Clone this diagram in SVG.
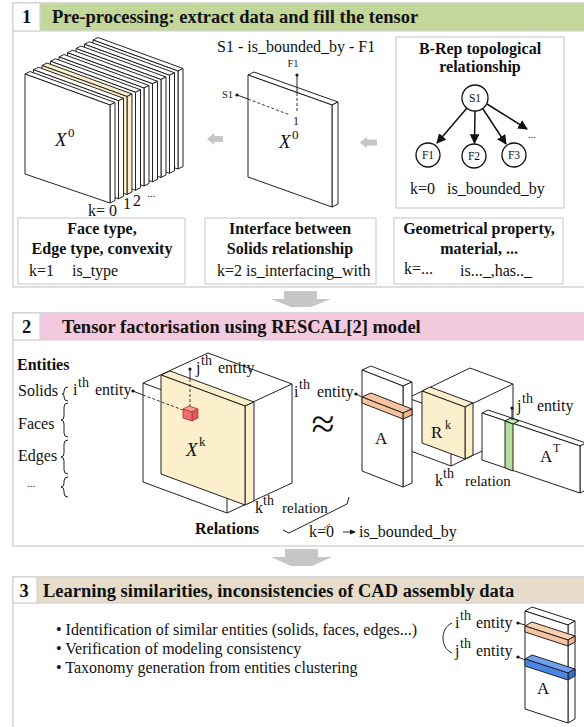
<svg xmlns="http://www.w3.org/2000/svg" width="584" height="727" viewBox="0 0 584 727">
<defs>
<style>
text{font-family:"Liberation Serif","Times New Roman",serif;fill:#111}
.t{font-size:18.5px;font-weight:bold}
.b{font-size:16px;font-weight:bold}
.r{font-size:16px}
.m{font-size:15px}
.bl{font-size:16px}
.s{font-size:14px}
.it{font-style:italic}
.ln{fill:none;stroke:#222;stroke-width:1}
.pn{fill:#fff;stroke:#d4d4d4;stroke-width:1.5}
.bx{fill:#fff;stroke:#cfcfcf;stroke-width:1.2}
.sl{stroke:#222;stroke-width:1;stroke-linejoin:round}
.w{fill:#fff}
.y{fill:#fcf0cc}
.ga{fill:#c6c6c6}
.dash{fill:none;stroke:#222;stroke-width:0.9;stroke-dasharray:3,2}
.ed{fill:none;stroke:#111;stroke-width:1.5}
.nd{fill:#fff;stroke:#111;stroke-width:1.3}
</style>
<marker id="ah" viewBox="0 0 10 10" refX="9" refY="5" markerWidth="6.5" markerHeight="6.5" orient="auto"><path d="M0,0 L10,5 L0,10 z" fill="#111"/></marker>
<g id="slab" class="sl"><polygon points="0,0 85,31 90,28.5 5,-2.5"/><polygon points="85,31 90,28.5 90,126.5 85,129"/><polygon points="0,0 85,31 85,129 0,100"/></g>
</defs>

<!-- Section 1 -->
<g id="section1">
<rect class="pn" x="13" y="3" width="580" height="284"/>
<rect x="13" y="3" width="580" height="28" fill="#c4d79b" stroke="#d4d4d4" stroke-width="1.2"/>
<rect x="13" y="3" width="27" height="28" fill="#fff" stroke="#d4d4d4" stroke-width="1.2"/>
<text class="t" x="26.5" y="23" text-anchor="middle">1</text>
<text class="t" x="52" y="23">Pre-processing: extract data and fill the tensor</text>
</g>

<g id="tensor-stack">
<use href="#slab" x="93" y="40" class="w"/>
<use href="#slab" x="84.5" y="44.25" class="w"/>
<use href="#slab" x="76" y="48.5" class="w"/>
<use href="#slab" x="67.5" y="52.75" class="w"/>
<use href="#slab" x="59" y="57" class="w"/>
<use href="#slab" x="50.5" y="61.25" class="w"/>
<use href="#slab" x="42" y="65.5" class="y"/>
<use href="#slab" x="33.5" y="69.75" class="w"/>
<use href="#slab" x="25" y="74" class="w"/>
<text class="it" x="55" y="146" font-size="19">X</text>
<text x="68" y="137" font-size="13">0</text>
<text class="r" x="88" y="216">k= 0</text>
<text class="r" x="123" y="209">1</text>
<text class="r" x="133" y="206">2</text>
<text x="147" y="197" font-size="11">...</text>
</g>

<g id="single-slab">
<text class="r" x="217" y="52">S1 - is_bounded_by - F1</text>
<polygon class="sl w" points="248,75 332,105 338,102 254,72"/>
<polygon class="sl w" points="332,105 338,102 338,204 332,207"/>
<polygon class="sl w" points="248,75 332,105 332,207 248,177"/>
<text x="293" y="67" font-size="10.5" text-anchor="middle">F1</text>
<circle cx="297" cy="75" r="1.6" fill="#111"/>
<line class="ln" x1="297" y1="75" x2="297" y2="93"/>
<line class="dash" x1="297" y1="93" x2="297" y2="113"/>
<text x="222" y="98" font-size="10.5">S1</text>
<circle cx="237" cy="95" r="1.6" fill="#111"/>
<line class="ln" x1="237" y1="95" x2="248" y2="99"/>
<line class="dash" x1="248" y1="99" x2="290" y2="115"/>
<text x="293" y="125" font-size="12">1</text>
<text class="it" x="279" y="148" font-size="19">X</text>
<text x="292" y="139" font-size="13">0</text>
</g>

<g id="brep-box">
<rect class="bx" x="396" y="37" width="168" height="171"/>
<text class="b" x="480" y="54" text-anchor="middle">B-Rep topological</text>
<text class="b" x="480" y="72" text-anchor="middle">relationship</text>
<text class="r" x="410" y="194">k=0</text>
<text class="r" x="447" y="194">is_bounded_by</text>
</g>
<g id="node-S1"><circle class="nd" cx="475" cy="98" r="13"/><text x="475" y="102" font-size="11.5" text-anchor="middle">S1</text></g>
<g id="node-F1"><circle class="nd" cx="428" cy="155" r="12"/><text x="428" y="159" font-size="11.5" text-anchor="middle">F1</text></g>
<g id="node-F2"><circle class="nd" cx="474" cy="156" r="12"/><text x="474" y="160" font-size="11.5" text-anchor="middle">F2</text></g>
<g id="node-F3"><circle class="nd" cx="514" cy="155" r="12"/><text x="514" y="159" font-size="11.5" text-anchor="middle">F3</text></g>
<text x="528" y="138" font-size="10">...</text>

<g id="box-face">
<rect class="bx" x="18" y="218" width="167" height="66"/>
<text class="b" x="102" y="234" text-anchor="middle">Face type,</text>
<text class="b" x="102" y="254" text-anchor="middle">Edge type, convexity</text>
<text class="r" x="29" y="276">k=1</text>
<text class="r" x="72" y="276">is_type</text>
</g>
<g id="box-interface">
<rect class="bx" x="205" y="218" width="171" height="66"/>
<text class="b" x="290" y="234" text-anchor="middle">Interface between</text>
<text class="b" x="290" y="254" text-anchor="middle">Solids relationship</text>
<text class="r" x="217" y="276">k=2 is_interfacing_with</text>
</g>
<g id="box-geom">
<rect class="bx" x="394" y="218" width="169" height="66"/>
<text class="b" x="479" y="234" text-anchor="middle">Geometrical property,</text>
<text class="b" x="479" y="254" text-anchor="middle">material, ...</text>
<text class="r" x="404" y="274">k=...</text>
<text class="r" x="460" y="276">is..._,has.._</text>
</g>

<!-- Section 2 -->
<g id="section2">
<rect class="pn" x="13" y="313" width="580" height="233"/>
<rect x="13" y="313" width="580" height="27" fill="#f3c9de" stroke="#d4d4d4" stroke-width="1.2"/>
<rect x="13" y="313" width="27" height="27" fill="#fff" stroke="#d4d4d4" stroke-width="1.2"/>
<text class="t" x="26.5" y="333" text-anchor="middle">2</text>
<text class="t" x="62" y="333">Tensor factorisation using RESCAL[2] model</text>
</g>

<g id="entities">
<text class="b" x="17" y="370">Entities</text>
<text class="r" x="18" y="396">Solids</text>
<text class="r" x="18" y="429">Faces</text>
<text class="r" x="18" y="461">Edges</text>
<text x="27" y="487" font-size="11">...</text>
<path class="ln" d="M68,387 Q64,387 64,391 L64,392 Q64,394 62,394 Q64,394 64,396 L64,397 Q64,401 68,401"/>
<path class="ln" d="M68,403 Q64,403 64,407 L64,416 Q64,420 61,420 Q64,420 64,424 L64,433 Q64,437 68,437"/>
<path class="ln" d="M68,440 Q64,440 64,444 L64,453 Q64,457 61,457 Q64,457 64,461 L64,470 Q64,474 68,474"/>
<path class="ln" d="M68,477 Q64,477 64,481 L64,483 Q64,487 61,487 Q64,487 64,491 L64,493 Q64,497 68,497"/>
<text class="r" x="73" y="395">i</text><text class="s" x="78" y="387">th</text><text class="r" x="95" y="395">entity</text>
<circle cx="133" cy="391" r="1.6" fill="#111"/>
</g>

<g id="tensor-X">
<polygon class="ln" points="143,383 227,414 227,513 143,482"/>
<polyline class="ln" points="143,383 208,353 292,384 292,483 227,513"/>
<line class="ln" x1="227" y1="414" x2="292" y2="384"/>
<polygon class="sl y" points="161,375 245,406 254,402 170,371"/>
<polygon class="sl y" points="245,406 254,402 254,501 245,505"/>
<polygon class="sl y" points="161,375 245,406 245,505 161,474"/>
<line class="ln" x1="133" y1="391" x2="143" y2="395"/>
<line class="dash" x1="143" y1="395" x2="183" y2="410"/>
<circle cx="190" cy="369" r="1.6" fill="#111"/>
<line class="ln" x1="190" y1="369" x2="190" y2="379"/>
<line class="dash" x1="190" y1="379" x2="190" y2="407"/>
<polygon points="183,409 192,412 198,409 189,406" fill="#f69a9a" stroke="#a33" stroke-width="0.8"/>
<polygon points="192,412 198,409 198,418 192,421" fill="#e25858" stroke="#a33" stroke-width="0.8"/>
<polygon points="183,409 192,412 192,421 183,418" fill="#f06b6b" stroke="#a33" stroke-width="0.8"/>
<text class="it" x="186" y="456" font-size="19">X</text>
<text x="199" y="446" font-size="13">k</text>
<text class="r" x="196" y="373">j</text><text class="s" x="201" y="365">th</text><text class="r" x="218" y="373">entity</text>
<text class="r" x="294" y="397">i</text><text class="s" x="299" y="389">th</text><text class="r" x="317" y="397">entity</text>
<circle cx="356" cy="394" r="1.6" fill="#111"/>
<line class="ln" x1="356" y1="394" x2="362" y2="397"/>
<text class="r" x="255" y="513">k</text><text class="s" x="263" y="505">th</text><text class="m" x="282" y="513">relation</text>
<text class="b" x="195" y="534">Relations</text>
<polyline class="ln" points="283,530 289,533 347,504 349,497"/>
<text class="r" x="309" y="537">k=0</text>
<text x="322" y="527" font-size="11" transform="rotate(-40 326 525)">...</text>
<line class="ln" x1="343" y1="532" x2="352" y2="532"/>
<polygon points="356,532 350,529.5 350,534.5" fill="#111"/>
<text class="r" x="359" y="537">is_bounded_by</text>
</g>

<text x="323" y="438" font-size="42" text-anchor="middle">≈</text>

<g id="tensor-R">
<polygon class="ln" points="408,398 451,414 451,466 408,450"/>
<polyline class="ln" points="408,398 470,368 513,384 513,436 451,466"/>
<line class="ln" x1="451" y1="414" x2="513" y2="384"/>
<polygon class="sl y" points="422,391 465,407 473,403 430,387"/>
<polygon class="sl y" points="465,407 473,403 473,455 465,459"/>
<polygon class="sl y" points="422,391 465,407 465,459 422,443"/>
<text x="431" y="438" font-size="17">R</text>
<text x="445" y="429" font-size="12">k</text>
<text class="r" x="435" y="486">k</text><text class="s" x="443" y="478">th</text><text class="m" x="465" y="486">relation</text>
</g>

<g id="matrix-A">
<polygon class="sl w" points="362,370 403,386 412,382 371,366"/>
<polygon class="sl w" points="403,386 412,382 412,483 403,487"/>
<polygon class="sl w" points="362,370 403,386 403,487 362,471"/>
<polygon class="sl" fill="#f8c3a0" points="362,397 403,413 412,409 371,393"/>
<polygon class="sl" fill="#f4b48c" points="403,413 412,409 412,415 403,419"/>
<polygon class="sl" fill="#f8c3a0" points="362,397 403,413 403,419 362,403"/>
<text x="375" y="444" font-size="17">A</text>
</g>

<g id="matrix-AT">
<polygon class="sl w" points="482,413 580,446 586,443 488,410"/>
<polygon class="sl w" points="580,446 586,443 586,490 580,493"/>
<polygon class="sl w" points="482,413 580,446 580,493 482,460"/>
<polygon class="sl" fill="#c4e6b0" points="505,421 513,424 519,421 511,418"/>
<polygon class="sl" fill="#b5dd9f" points="505,421 513,424 513,471 505,468"/>
<circle cx="512" cy="408" r="1.6" fill="#111"/>
<line class="ln" x1="512" y1="408" x2="512" y2="420"/>
<text class="r" x="517" y="411">j</text><text class="s" x="522" y="403">th</text><text class="r" x="537" y="411">entity</text>
<text x="540" y="462" font-size="17">A</text>
<text x="553" y="452" font-size="12">T</text>
</g>

<!-- Section 3 -->
<g id="section3">
<rect class="pn" x="13" y="577" width="580" height="170"/>
<rect x="13" y="577" width="580" height="26" fill="#e7dcca" stroke="#d4d4d4" stroke-width="1.2"/>
<rect x="13" y="577" width="24" height="26" fill="#fff" stroke="#d4d4d4" stroke-width="1.2"/>
<text class="t" x="24" y="597" text-anchor="middle">3</text>
<text class="t" x="43" y="597">Learning similarities, inconsistencies of CAD assembly data</text>
<text class="bl" x="56" y="635">• Identification of similar entities (solids, faces, edges...)</text>
<text class="bl" x="56" y="654">• Verification of modeling consistency</text>
<text class="bl" x="56" y="673">• Taxonomy generation from entities clustering</text>
</g>

<g id="similarity-A">
<path class="ln" d="M452,623 C440,628 440,648 452,653"/>
<text class="r" x="455" y="628">i</text><text class="s" x="460" y="620">th</text><text class="r" x="476" y="628">entity</text>
<text class="r" x="455" y="656">j</text><text class="s" x="460" y="648">th</text><text class="r" x="476" y="656">entity</text>
<polygon class="sl w" points="525,611 568,625 575,621 532,607"/>
<polygon class="sl w" points="568,625 575,621 575,719 568,723"/>
<polygon class="sl w" points="525,611 568,625 568,723 525,709"/>
<polygon class="sl" fill="#fbd0b0" points="525,626 568,640 575,636 532,622"/>
<polygon class="sl" fill="#f4b48c" points="568,640 575,636 575,642 568,646"/>
<polygon class="sl" fill="#f8c3a0" points="525,626 568,640 568,646 525,632"/>
<polygon class="sl" fill="#6e9ff0" points="525,659 568,673 575,669 532,655"/>
<polygon class="sl" fill="#3b70d0" points="568,673 575,669 575,676 568,680"/>
<polygon class="sl" fill="#4a86e8" points="525,659 568,673 568,680 525,666"/>
<circle cx="518" cy="623" r="1.6" fill="#111"/>
<line class="ln" x1="518" y1="623" x2="525" y2="625"/>
<circle cx="518" cy="657" r="1.6" fill="#111"/>
<line class="ln" x1="518" y1="657" x2="525" y2="660"/>
<text x="537" y="694" font-size="17">A</text>
</g>

<g id="connectors">
<line class="ed" x1="467" y1="108" x2="437" y2="143" marker-end="url(#ah)"/>
<line class="ed" x1="475" y1="111" x2="474.5" y2="143" marker-end="url(#ah)"/>
<line class="ed" x1="483" y1="109" x2="506" y2="144" marker-end="url(#ah)"/>
<line class="ed" x1="487" y1="104" x2="527" y2="129" marker-end="url(#ah)"/>
<polygon class="ga" points="207,139 214,133 214,136 223,136 223,142 214,142 214,145"/>
<polygon class="ga" points="360,142.5 367,136.5 367,139.5 377,139.5 377,145.5 367,145.5 367,148.5"/>
<polygon class="ga" points="284,291 317,291 317,299 331,299 311,307 291,307 271,299 284,299"/>
<polygon class="ga" points="285,549 318,549 318,557 332,557 312,566 291,566 271,557 285,557"/>
</g>
</svg>
